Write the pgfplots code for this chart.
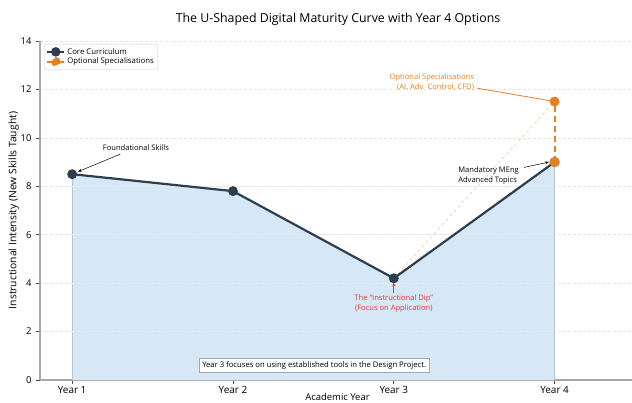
\documentclass[border=0pt]{standalone}
\usepackage{pgfplots}
\pgfplotsset{compat=1.18}
\usetikzlibrary{arrows.meta}
\usepackage{fontspec}
\setmainfont{Open Sans}
\setsansfont{Open Sans}
\definecolor{navy}{HTML}{2C3E50}
\definecolor{orng}{HTML}{E67E22}
\definecolor{dipred}{HTML}{F0303A}
\definecolor{fillblue}{HTML}{D6E8F5}
\definecolor{spine}{HTML}{A8A8A8}
\begin{document}
\begin{tikzpicture}
\begin{axis}[
  at={(40bp,23bp)}, anchor=south west,
  scale only axis, width=595bp, height=339bp,
  xmin=-0.2, xmax=3.5, ymin=0, ymax=14,
  xtick={0,1,2,3}, xticklabels={Year 1,Year 2,Year 3,Year 4},
  ytick={0,2,4,6,8,10,12,14},
  tick pos=left, tick align=outside,
  major tick length=4bp,
  tick style={draw=black!70, line width=0.7pt},
  axis line style={draw=spine, line width=1.4pt},
  axis x line*=bottom, axis y line*=left,
  ymajorgrids, grid style={densely dashed, draw=gray!20, line width=0.5pt},
  /pgf/number format/assume math mode=true,
  yticklabel style={font=\fontsize{9.5}{10}\selectfont, xshift=-1bp},
  xticklabel style={font=\fontsize{10}{11}\selectfont, yshift=1.5bp},
  xlabel={Academic Year},
  xlabel style={font=\fontsize{9.5}{10}\selectfont, yshift=7bp},
  ylabel={Instructional Intensity (New Skills Taught)},
  ylabel style={font=\fontsize{10.4}{11}\selectfont, yshift=-5bp},
  legend style={at={(4bp,336bp)}, anchor=north west, draw=gray!40, rounded corners=1.5pt,
    font=\fontsize{7.8}{9}\selectfont, row sep=-1.5pt, inner sep=2pt, fill=white},
  legend cell align=left,
  legend image code/.code={\draw[#1, solid] (0mm,0mm) -- (6mm,0mm); \fill[#1] (3mm,0mm) circle (3.6bp);},
  clip=false,
]
% fill under curve
\addplot[draw=none, fill=fillblue, forget plot] coordinates {(0,8.5) (1,7.8) (2,4.2) (3,9.0)} \closedcycle;
\addplot[draw=fillblue!85!black, line width=0.5pt, forget plot] coordinates {(0,0) (0,8.5)};
\addplot[draw=fillblue!85!black, line width=0.5pt, forget plot] coordinates {(3,0) (3,9.0)};
% redraw grid over fill faintly
\addplot[densely dashed, draw=white!85!gray, line width=0.5pt, forget plot] coordinates {(0,2) (3,2)};
\addplot[densely dashed, draw=white!85!gray, line width=0.5pt, forget plot] coordinates {(0,4) (3,4)};
\addplot[densely dashed, draw=white!85!gray, line width=0.5pt, forget plot] coordinates {(0,6) (3,6)};
\addplot[densely dashed, draw=white!85!gray, line width=0.5pt, forget plot] coordinates {(0,8) (3,8)};
% faint dashed trajectory
\addplot[dashed, draw=orng!40, line width=0.7pt, forget plot] coordinates {(2,4.2) (3,11.5)};
% core curriculum
\addplot[color=navy, line width=2.2pt, mark=*, mark size=3.8bp, mark options={fill=navy, draw=navy}] coordinates {(0,8.5) (1,7.8) (2,4.2) (3,9.0)};
\addlegendentry{Core Curriculum}
% optional
\addplot[color=orng, line width=2.2pt, dash pattern=on 6bp off 4bp, mark=*, mark size=3.8bp, mark options={solid, fill=orng, draw=orng}] coordinates {(3,9.0) (3,11.5)};
\addlegendentry{Optional Specialisations}
% annotations
\draw[-{Stealth[length=4bp,width=3bp]}, line width=0.5pt, black] (axis cs:0.3,9.33) -- (axis cs:0.035,8.6);
\node[font=\fontsize{7.6}{9}\selectfont, anchor=south west, inner sep=0pt] at (axis cs:0.19,9.45) {Foundational Skills};
\draw[line width=0.8pt, orng] (axis cs:2.52,12.05) -- (axis cs:3,11.5);
\node[font=\fontsize{7.6}{9.6}\selectfont, align=right, anchor=east, inner sep=0pt, text=orng] at (axis cs:2.5,12.3) {Optional Specialisations\\(AI, Adv. Control, CFD)};
\draw[-{Stealth[length=4bp,width=3bp]}, line width=0.5pt, black] (axis cs:2.81,8.78) -- (axis cs:2.965,9.0);
\node[font=\fontsize{7.6}{9.6}\selectfont, align=left, anchor=west, inner sep=0pt] at (axis cs:2.4,8.45) {Mandatory MEng\\Advanced Topics};
\draw[-{Stealth[length=4bp,width=3bp]}, line width=0.7pt, dipred] (axis cs:2,3.58) -- (axis cs:2,4.03);
\node[font=\fontsize{7.6}{9.6}\selectfont, align=center, anchor=north, inner sep=0pt, text=dipred] at (axis cs:2,3.52) {The ``Instructional Dip''\\(Focus on Application)};
\node[font=\fontsize{7.7}{9}\selectfont, draw=gray!70, fill=white!93!fillblue, line width=0.6pt, inner sep=3pt] at (axis cs:1.505,0.62) {Year 3 focuses on using established tools in the Design Project.};
\end{axis}
\node[font=\fontsize{12.4}{14}\selectfont] at (338bp,384bp) {The U-Shaped Digital Maturity Curve with Year 4 Options};
\pgfresetboundingbox
\path[use as bounding box] (0,0) rectangle (632bp,403bp);
\end{tikzpicture}
\end{document}
